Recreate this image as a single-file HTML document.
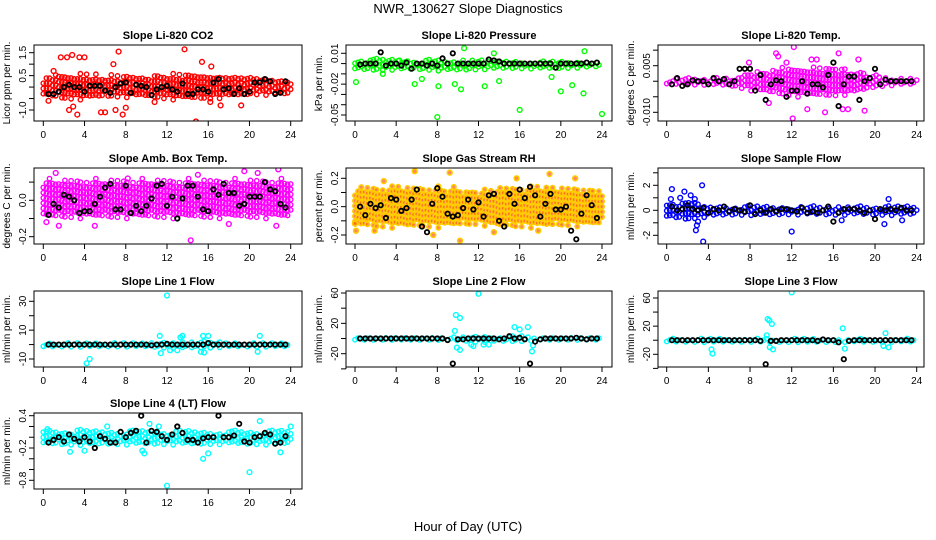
<!DOCTYPE html>
<html><head><meta charset="utf-8">
<style>
html,body{margin:0;padding:0;background:#fff;}
svg{display:block;font-family:"Liberation Sans","DejaVu Sans",sans-serif;}
</style></head>
<body>
<svg id="chart" width="936" height="540" viewBox="0 0 936 540" xmlns="http://www.w3.org/2000/svg">
<text x="468" y="13" font-size="13" text-anchor="middle">NWR_130627  Slope Diagnostics</text>
<text x="468" y="531" font-size="13" text-anchor="middle">Hour of Day (UTC)</text>
</svg>
<script>
// ---- data ----
const xTicks = [0,4,8,12,16,20,24];
const panelTitles = ["Slope Li-820 CO2","Slope Li-820 Pressure","Slope Li-820 Temp.","Slope Amb. Box Temp.","Slope Gas Stream RH","Slope Sample Flow","Slope Line 1 Flow","Slope Line 2 Flow","Slope Line 3 Flow","Slope Line 4 (LT) Flow"];
const yTitles = ["Licor ppm per min.","kPa per min.","degrees C per min.","degrees C per min.","percent per min.","ml/min per min.","ml/min per min.","ml/min per min.","ml/min per min.","ml/min per min."];
const yTickValues = [[1.5,1,0.5,0,-0.5,-1],[0.01,0,-0.01,-0.02,-0.03,-0.04,-0.05],[0.01,0.005,0,-0.005,-0.01],[0.1,0,-0.1,-0.2],[0.2,0.1,0,-0.1,-0.2],[3,2,1,0,-1,-2],[30,20,10,0,-10],[60,40,20,0,-20,-40],[60,40,20,0,-20,-40],[0.4,0.2,0,-0.2,-0.4,-0.6,-0.8]];
const yTickLabels = [["1.5","","0.5","","","-1.0"],["0.01","","","-0.02","","","-0.05"],["","0.005","","","-0.010"],["","0.0","","-0.2"],["0.2","","0.0","","-0.2"],["","2","","0","","-2"],["30","","10","","-10"],["60","","20","","-20",""],["60","","20","","-20",""],["0.4","","","-0.2","","","-0.8"]];
// band (dense cloud) center and half-width at hours 0,2,4,...,24
const bandCenter = [0.05,-0.001,0,0.01,0,0,0,0,0,0];
const bandHalf = [
 [0.45,0.6,0.6,0.5,0.5,0.5,0.6,0.6,0.6,0.5,0.4,0.4,0.4],
 [0.005,0.006,0.005,0.005,0.006,0.006,0.005,0.004,0.004,0.004,0.004,0.003,0.002],
 [0.001,0.0012,0.0012,0.0015,0.003,0.004,0.005,0.005,0.005,0.004,0.002,0.0012,0.001],
 [0.11,0.11,0.11,0.11,0.11,0.11,0.11,0.11,0.11,0.11,0.11,0.11,0.11],
 [0.14,0.15,0.15,0.15,0.15,0.14,0.13,0.15,0.15,0.15,0.14,0.14,0.13],
 [0.6,0.8,0.5,0.4,0.4,0.4,0.35,0.35,0.4,0.35,0.4,0.4,0.35],
 [1.6,1.6,1.6,1.5,1.5,1.5,2.5,2.5,2.5,1.5,1.6,1.5,1.5],
 [2,2,2,2,2,3,5,4,4,2,2,2,2],
 [2.5,2.5,3,2.5,2.5,3,3,3,3,2.5,3,2.5,2.5],
 [0.13,0.15,0.15,0.14,0.14,0.14,0.14,0.14,0.14,0.13,0.14,0.14,0.13]];
// colored outliers [hour, value]
const outliers = [
 [[1.7,1.3],[2.3,1.3],[2.8,1.4],[3.5,1.3],[4,1.3],[7.3,1.55],[13.7,1.65],[15.4,1.1],[2.5,-1],[3.3,-1.2],[5.6,-1.1],[7,-1],[7.7,-1.2],[12.9,-1.6],[14.8,-1.5],[17.2,-0.8],[19.2,-0.8],[1,0.7],[6.8,1],[16.3,0.9],[0.5,-0.6],[2.9,-0.85],[6,-1.1],[8,-0.9],[10.8,-0.65],[16.2,-0.65]],
 [[0.1,-0.018],[2.7,-0.01],[4.3,0.003],[8.1,-0.022],[8,-0.052],[9.7,-0.02],[10.3,-0.025],[10.6,0.015],[12.6,-0.022],[13.5,0.01],[14,-0.017],[16,-0.045],[19.1,-0.013],[20,-0.027],[21.1,-0.021],[22.2,-0.029],[22.3,0.012],[24,-0.049],[5.8,-0.02],[6.5,-0.015]],
 [[10.5,0.009],[12.2,0.011],[16.5,0.009],[12.1,-0.012],[13.5,-0.009],[15.2,-0.01],[16.9,-0.009],[17.4,-0.009],[18.4,0.007],[7.9,0.006],[11.5,0.006],[9.8,-0.007],[19,-0.0095],[10.7,0.008],[13.9,0.007],[14.4,0.007]],
 [[1.2,0.15],[22.8,0.17],[19.5,0.16],[14.3,-0.22],[1.5,-0.14],[5,-0.14],[22.6,-0.14],[18,-0.13],[0.3,-0.12],[8.2,0.12],[15,0.14],[20.8,0.15]],
 [[5.8,0.25],[9.2,0.24],[18.9,0.23],[21.4,0.2],[15.7,0.2],[2.8,0.18],[10.2,-0.24],[7.6,-0.2],[0.1,-0.17],[1.9,-0.17],[17.8,-0.17],[0,-0.12],[13.5,-0.18]],
 [[0.5,1.7],[0.4,0.9],[1.7,1.5],[2.3,1.2],[3.4,2],[3.5,-2.5],[2.8,-1.6],[2.9,-1.2],[3,-0.9],[12,-1.7],[21.3,0.9],[20.9,-1.1],[16.8,-0.8],[22.6,-0.8],[1.3,1],[2.7,0.9]],
 [[12,34],[4.2,-13],[4.5,-10],[11.3,6],[11.4,-6],[15.5,6],[16,6],[21,6],[20.8,-5],[13,-4],[15.3,-5],[12.3,-4],[13.3,5],[13.5,6],[15.6,-5.5]],
 [[12,59],[9.8,31],[10.2,27],[9.9,-12],[10.2,-15],[11.3,-8],[16.8,15],[17.2,-17],[15.5,15],[16,12],[12.5,-8],[13,-8],[9.7,10],[11.5,-10],[17.3,-9]],
 [[12,68],[9.7,30],[10.1,23],[16.9,17],[9.6,7],[4.3,-13],[4.4,-19],[9.9,-10],[10.2,-13],[17.1,-12],[21,10],[20.8,-8],[21.3,-10],[9.85,28]],
 [[12,-0.9],[20,-0.65],[21,0.3],[24,0.2],[15.5,-0.4],[16,-0.3],[9.8,-0.3],[10.3,0.25],[11.2,0.2],[6.2,0.2],[23,-0.28],[4,-0.25],[9.6,-0.25],[2.6,-0.27],[0.4,0.15]]];
// black series values at hours 0.5, 1.0, ... 23.5
const blackValues = [
 [-0.3,-0.3,-0.2,0,0.1,0,0,-0.2,0.05,0.05,0.05,-0.15,-0.25,0,0.15,0.2,-0.25,0.1,0.05,0,-0.35,-0.1,0,0.05,-0.1,-0.2,0.15,-0.3,-0.3,-0.1,-0.1,-0.2,0.2,0.35,-0.1,-0.05,-0.3,-0.05,-0.3,-0.2,0.2,0.2,0.35,0.25,-0.3,-0.25,0.25],
 [-0.001,0,0,0,0.011,-0.002,0,0,-0.002,0.001,-0.005,0,0,-0.002,0,-0.002,0.005,0,0.01,0,0,0,0,0,0,0.004,0.003,0.002,0,0,0,0,0,0,0,0,0,0,-0.004,0,0,0,0,0,0.001,0,0.001],
 [-0.001,0.001,-0.0015,-0.001,0.0003,0,0,-0.001,0.001,0,0.0007,-0.001,0,0.004,0.004,0.004,-0.003,0.002,-0.006,-0.001,0.0003,0,-0.005,-0.003,-0.003,0,-0.004,-0.001,-0.001,-0.002,0.002,0.006,-0.008,-0.001,0.0015,0.0015,-0.006,0,0.001,0.004,-0.001,0.0005,0,0,0,0,0],
 [-0.08,-0.02,-0.04,0.03,0.02,0,-0.07,-0.06,-0.06,-0.02,0.02,0.07,0.09,-0.05,-0.05,0.08,-0.07,-0.03,-0.06,-0.03,0.01,0.08,0.09,-0.03,0.02,-0.1,0.01,0.08,0.08,0.02,-0.05,-0.06,0.06,0.03,0.09,0.04,0.04,-0.03,-0.02,0.02,0.02,0.02,0.1,0.06,0.05,-0.02,-0.04],
 [0,-0.06,0.02,-0.01,0.01,-0.08,0.06,0.05,-0.03,-0.01,0.05,0.12,-0.14,-0.18,0.02,0.13,0.07,-0.05,-0.07,-0.06,-0.01,0.05,-0.02,0.03,-0.07,0.08,0.09,-0.1,-0.14,0.09,0.02,0.12,0.06,0.14,0.08,-0.07,0.02,0.09,-0.02,-0.02,0,-0.17,-0.23,-0.05,0.08,0.01,-0.08],
 [0.3,0,0.1,0.4,0.1,0,0.2,-0.2,0.1,0,0.3,-0.1,0.1,0,-0.1,0.4,-0.3,0,-0.2,0.1,-0.1,0.1,0.1,0,-0.1,0.2,-0.2,-0.1,-0.2,0,0.3,-0.9,-0.2,0.1,0.1,0.1,0,-0.2,0,-0.7,0.1,0,0.1,0,0.2,0,0],
 [0,0,0,0,0,0,0,0,0,0,0,0,0,0,0,0,0,0,0,0,-0.5,0,0,0.5,0,0,0,0,0,0,0,1,0,0,0,0,0,0,0,0,0,0,0,0,0,0,0],
 [0,0,0,0,0,0,0,0,0,0,0,0,0,0,0,0,0,-2,-33,-1,-1,0,0,0,0,0,0,-1,0,3,0,1,-1,-33,-4,-1,0,0,0,0,0,0,1,0,-1,0,0],
 [0,0,0,0,0,0,0,0,0,0,0,0,0,0,0,0,0,-1,-34,-1,-1,0,0,0,0,0,0,0,-1,1,0,0,-3,-27,-1,0,0,0,0,0,0,0,0,0,0,0,0],
 [-0.1,-0.05,0,-0.08,0.05,-0.03,-0.08,0,-0.08,-0.2,0.02,-0.03,-0.1,-0.1,0.1,0,0.08,0.12,0.4,-0.1,0.12,0.1,0.02,-0.05,0.05,0.2,0.08,-0.05,-0.05,-0.1,-0.02,0.0,0.0,0.4,0,0,0.03,0.25,-0.08,-0.1,0,0.02,0.08,0.05,-0.12,-0.1,0.02]];
const colors = ["#ff0000","#00ff00","#ff00ff","#ff00ff","#ffcc00","#0000ff","#00ffff","#00ffff","#00ffff","#00ffff"];

// ---- geometry ----
const colL=[34,346,658], colR=[302,612,924], colX0=[43.3,355,666.7], colX24=[290.7,602,916.7];
const rowT=[45,168,291,413], rowB=[121,244,367,489];
const yAnchors=[[1.5,52.7,-1,110],[0.01,53.3,-0.05,115],[0.005,65.7,-0.01,112.3],[0,200.3,-0.2,236.7],[0.2,178.3,-0.2,235],[2,185.3,-2,235.3],[30,301.3,-10,359],[60,293,-20,353.7],[60,298,-20,354.3],[0.4,415.7,-0.8,480.3]];

const svg=document.getElementById('chart');
const NS='http://www.w3.org/2000/svg';
function mk(tag,attrs,parent){const e=document.createElementNS(NS,tag);for(const k in attrs)e.setAttribute(k,attrs[k]);(parent||svg).appendChild(e);return e;}

for(let p=0;p<10;p++){
  const c=p%3, r=Math.floor(p/3);
  const L=colL[c],R=colR[c],T=rowT[r],B=rowB[r];
  const xs=h=>colX0[c]+(colX24[c]-colX0[c])*h/24;
  const a=yAnchors[p];
  const ys=v=>a[1]+(v-a[0])*(a[3]-a[1])/(a[2]-a[0]);
  const g=mk('g',{});
  
  
  const clip=mk('clipPath',{id:'clip'+p},g);
  mk('rect',{x:L,y:T,width:R-L,height:B-T},clip);
  const title=mk('text',{x:(L+R)/2,y:T-6,'font-size':11,'font-weight':'bold','text-anchor':'middle'},g);
  title.textContent=panelTitles[p];
  
  
  const pts=mk('g',{'clip-path':'url(#clip'+p+')'},g);
  
  
  const col=colors[p];
  const sw=p===4?1.6:1.4;
  function dot(h,v,color,w,rad){
    const yel=p===4&&color!=='#000';
    return mk('circle',{cx:xs(h).toFixed(1),cy:ys(v).toFixed(1),r:rad,fill:yel?'#ff3000':'none','fill-opacity':yel?0.6:1,stroke:color,'stroke-width':w},pts);
  }
  // dense band (regular sampling pattern between band edges)
  const pxU=Math.abs((a[3]-a[1])/(a[2]-a[0]));
  let k=0;
  for(let h=0;h<=24.001;h+=0.3){
    const i=Math.min(11,Math.floor(h/2)), f=h/2-i;
    const hw=bandHalf[p][i]*(1-f)+bandHalf[p][i+1]*f;
    const stepV=5.2/pxU;
    const off=(k%3)*stepV/3;
    const edge=0.75+0.25*((k*7)%5)/4; k++;
    for(let v=bandCenter[p]-hw*edge+off; v<=bandCenter[p]+hw*edge; v+=stepV){
      dot(h,v,col,sw,2.2);
    }
  }
  outliers[p].forEach(o=>{dot(o[0],o[1],col,sw,2.4);});
  blackValues[p].forEach((v,i)=>{dot(0.5+i*0.5,v,'#000',1.8,2.2);});
  const box=mk('rect',{x:L,y:T,width:R-L,height:B-T,fill:'none',stroke:'#000','stroke-width':1},g);
  
  
  const xa=mk('g',{},g);
  
  
  mk('line',{x1:xs(0),x2:xs(24),y1:B,y2:B,stroke:'#000'},xa);
  xTicks.forEach(t=>{
    mk('line',{x1:xs(t),x2:xs(t),y1:B,y2:B+5,stroke:'#000'},xa);
    const tl=mk('text',{x:xs(t),y:B+17,'font-size':10,'text-anchor':'middle'},xa);
    tl.textContent=t;
  });
  const ya=mk('g',{},g);
  
  
  const tv=yTickValues[p];
  mk('line',{x1:L,x2:L,y1:ys(tv[0]),y2:ys(tv[tv.length-1]),stroke:'#000'},ya);
  tv.forEach((t,i)=>{
    mk('line',{x1:L-5,x2:L,y1:ys(t),y2:ys(t),stroke:'#000'},ya);
    if(yTickLabels[p][i]){
      const tl=mk('text',{x:0,y:0,'font-size':10,'text-anchor':'middle',transform:'translate('+(L-8)+','+ys(t)+') rotate(-90)'},ya);
      tl.textContent=yTickLabels[p][i];
    }
  });
  const yt=mk('text',{x:0,y:0,'font-size':10,'text-anchor':'middle',transform:'translate('+(L-24)+','+((T+B)/2)+') rotate(-90)'},g);
  yt.textContent=yTitles[p];
  
  
}
</script>
</body></html>
